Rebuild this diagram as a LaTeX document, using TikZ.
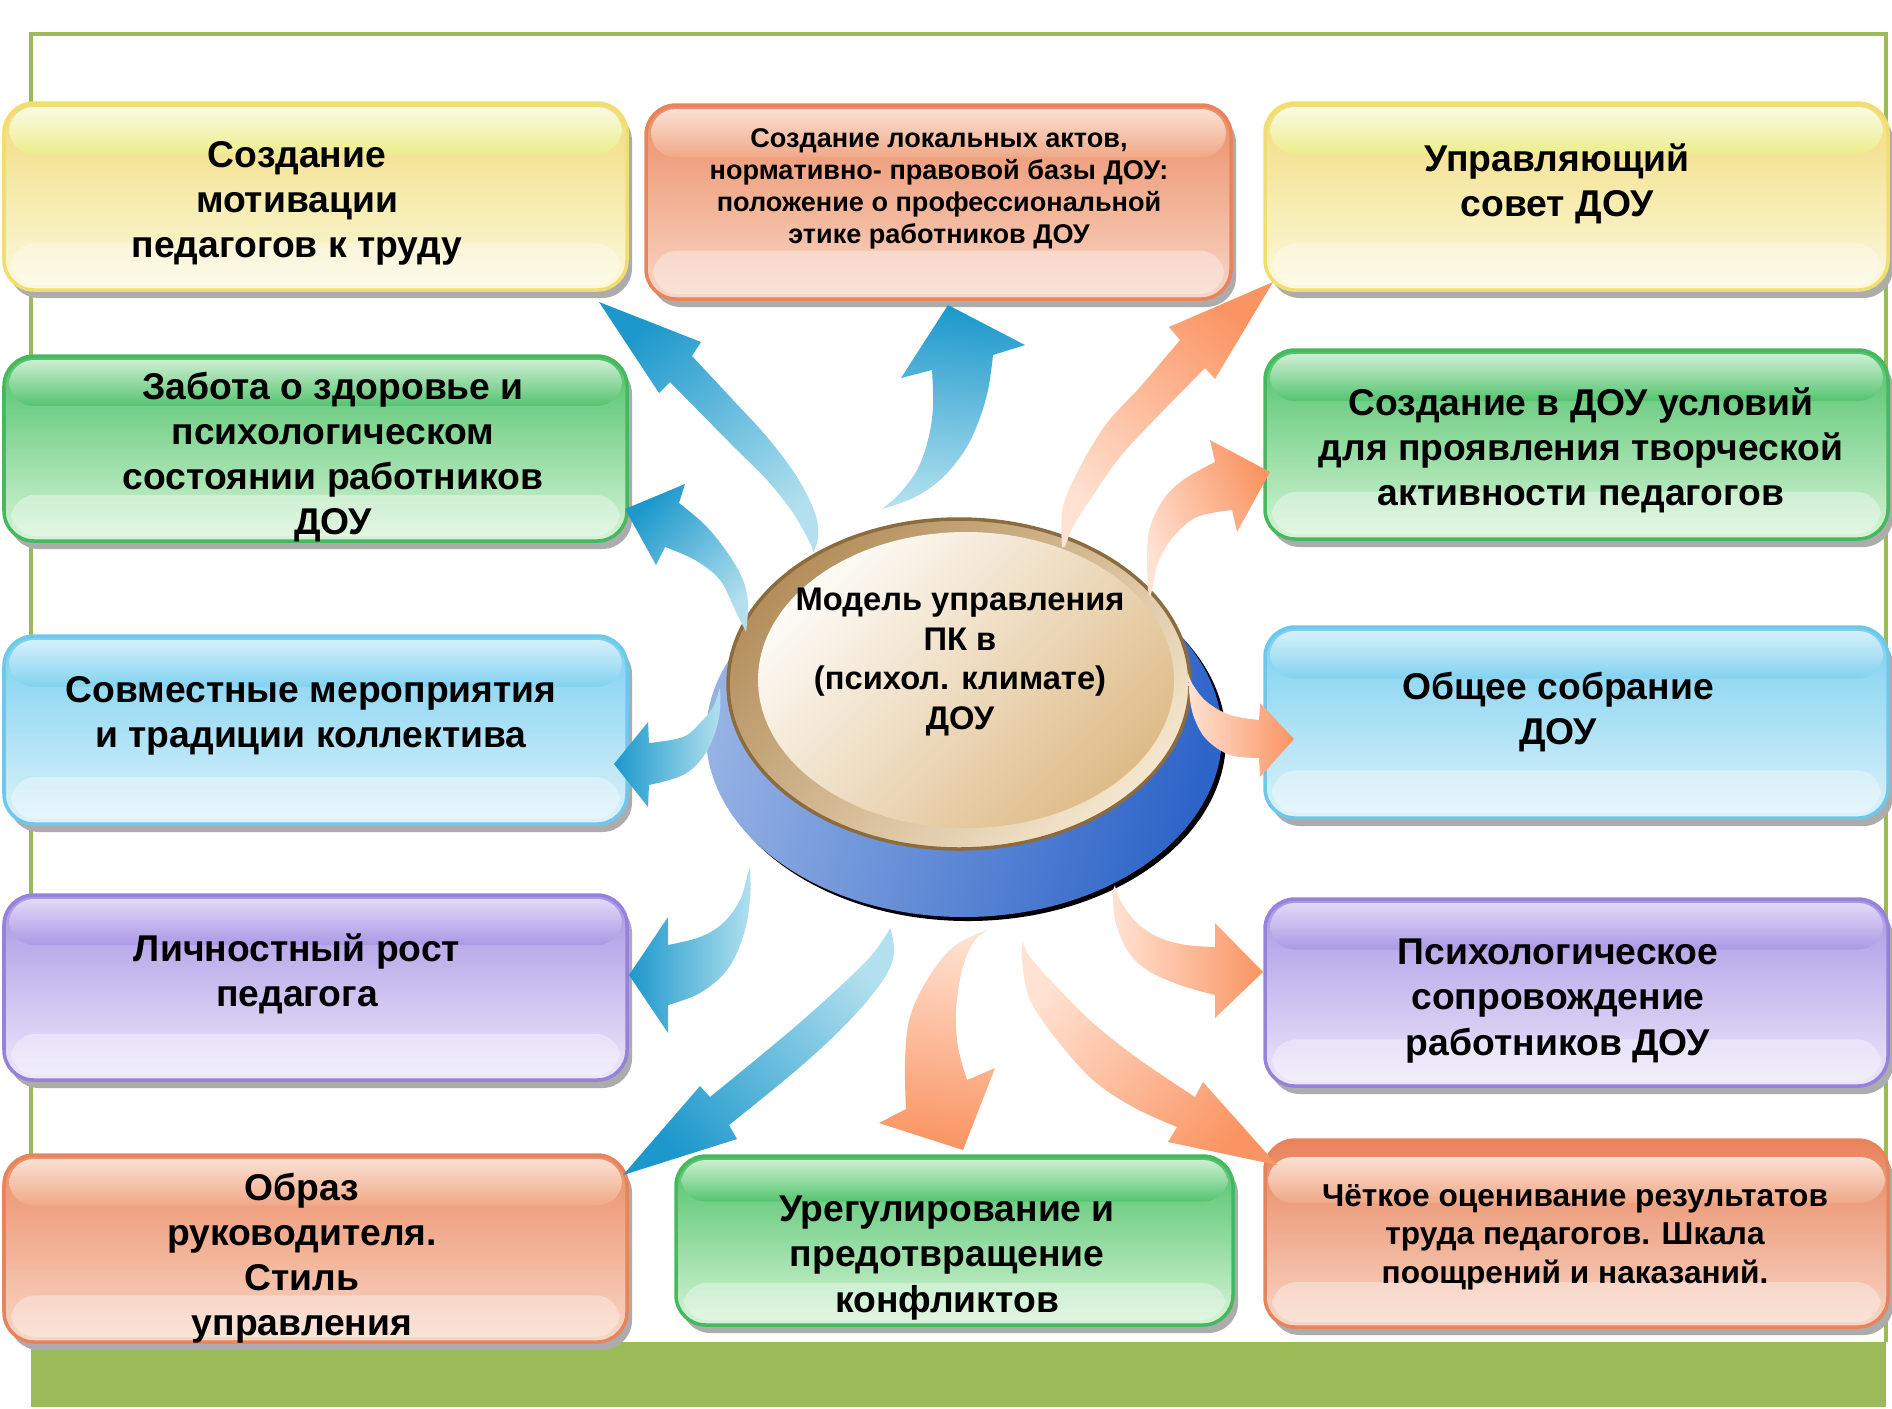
\documentclass[tikz,border=0pt]{standalone}
\usepackage{fontspec}
\setmainfont{Liberation Sans}
\definecolor{frameg}{RGB}{155,187,89}
% yellow
\definecolor{yS}{RGB}{241,220,125}\definecolor{yL}{RGB}{252,249,222}
\definecolor{yT}{RGB}{251,250,228}\definecolor{yG}{RGB}{236,238,140}
\definecolor{yB}{RGB}{242,222,110}\definecolor{yM}{RGB}{245,232,165}
% orange
\definecolor{oS}{RGB}{236,142,102}\definecolor{oL}{RGB}{248,214,198}
\definecolor{oT}{RGB}{250,225,212}\definecolor{oG}{RGB}{240,168,135}
\definecolor{oB}{RGB}{232,132,92}\definecolor{oM}{RGB}{240,172,140}
% green
\definecolor{gS}{RGB}{78,194,106}\definecolor{gL}{RGB}{214,244,214}
\definecolor{gT}{RGB}{205,238,210}\definecolor{gG}{RGB}{85,196,112}
\definecolor{gB}{RGB}{70,185,95}\definecolor{gM}{RGB}{140,215,150}
% light blue
\definecolor{bS}{RGB}{122,208,240}\definecolor{bL}{RGB}{220,242,250}
\definecolor{bT}{RGB}{215,240,250}\definecolor{bG}{RGB}{130,210,240}
\definecolor{bB}{RGB}{110,200,235}\definecolor{bM}{RGB}{165,222,245}
% purple
\definecolor{pS}{RGB}{168,150,228}\definecolor{pL}{RGB}{236,232,250}
\definecolor{pT}{RGB}{226,217,246}\definecolor{pG}{RGB}{172,152,230}
\definecolor{pB}{RGB}{150,130,220}\definecolor{pM}{RGB}{200,188,238}
% arrows
\definecolor{abL}{RGB}{178,224,238}\definecolor{abD}{RGB}{28,152,204}
\definecolor{aoL}{RGB}{255,226,210}\definecolor{aoD}{RGB}{250,148,98}
% disc
\definecolor{dbL}{RGB}{150,178,228}\definecolor{dbD}{RGB}{45,100,200}
\definecolor{goldD}{RGB}{180,143,92}\definecolor{goldL}{RGB}{244,230,205}
\definecolor{goldE}{RGB}{140,108,62}
\definecolor{faceL}{RGB}{253,251,247}\definecolor{faceD}{RGB}{222,188,136}
\definecolor{shgray}{RGB}{172,172,172}

\newcommand{\mybox}[5]{%
  \fill[shgray, rounded corners=8.5pt] ({#1+5},{#2+8}) rectangle ({#3+5},{#4+8});
  \shade[rounded corners=8.5pt, top color=#5S, middle color=#5M, bottom color=#5L, draw=#5B, line width=1pt] (#1,#2) rectangle (#3,#4);
  \pgfmathsetmacro\hh{#4-#2}
  \shade[rounded corners=7pt, top color=#5T, bottom color=#5G] ({#1+5},{#2+4}) rectangle ({#3-5},{#2+0.27*\hh});
  \fill[white, opacity=0.35, rounded corners=7pt] ({#1+7},{#4-0.25*\hh}) rectangle ({#3-7},{#4-5});
}

\begin{document}
\begin{tikzpicture}[x=0.01cm,y=-0.01cm,
  txt/.style={font=\fontsize{10.6}{12.8}\selectfont\bfseries, align=center, inner sep=0pt, text=black},
  blar/.style={top color=abD, bottom color=abL},
  orar/.style={top color=aoD, bottom color=aoL},
  sm/.style={smooth, tension=0.6}]
\useasboundingbox (0,0) rectangle (1892,1408);
\fill[white] (0,0) rectangle (1892,1408);
% frame and band
\draw[frameg, line width=1pt] (31,1342) -- (31,34) -- (1886,34) -- (1886,1342);
\fill[frameg] (31,1342) rectangle (1886,1407);

% boxes
\mybox{4}{103}{627}{290}{y}
\mybox{4}{356}{627}{541}{g}
\mybox{4}{636}{627}{824}{b}
\mybox{4}{895}{627}{1080}{p}
\mybox{4}{1155}{627}{1342}{o}
\mybox{646}{105}{1231}{299}{o}
\mybox{676}{1156}{1233}{1325}{g}
\mybox{1265}{103}{1888}{290}{y}
\mybox{1265}{350}{1888}{539}{g}
\mybox{1265}{627}{1888}{818}{b}
\mybox{1265}{899}{1888}{1086}{p}
% special last box
\fill[shgray, rounded corners=8.5pt] (1270,1148) rectangle (1893,1335);
\shade[rounded corners=8.5pt, top color=oB, middle color=oM, bottom color=oL, draw=oB, line width=1pt] (1265,1140) rectangle (1888,1327);
\shade[rounded corners=7pt, top color=oT, bottom color=oG] (1268,1157) rectangle (1885,1203);
\fill[white, opacity=0.35, rounded corners=7pt] (1272,1282) rectangle (1881,1322);

% texts
\node[txt] (l1) at (297,203) {Создание\\мотивации\\педагогов к труду};
\node[txt] (l2) at (333,457) {Забота о здоровье и\\психологическом\\состоянии работников\\ДОУ};
\node[txt] (l3) at (311,716) {Совместные мероприятия\\и традиции коллектива};
\node[txt] (l4) at (297,974) {Личностный рост\\педагога};
\node[txt] (l5) at (302,1258) {Образ\\руководителя.\\Стиль\\управления};
\node[txt, font=\fontsize{7.7}{9.1}\selectfont\bfseries] (mt) at (939,189) {Создание локальных актов,\\нормативно- правовой базы ДОУ:\\положение о профессиональной\\этике работников ДОУ};
\node[txt] (mb) at (947,1258) {Урегулирование и\\предотвращение\\конфликтов};
\node[txt] (r1) at (1557,184) {Управляющий\\совет ДОУ};
\node[txt] (r2) at (1581,450) {Создание в ДОУ условий\\для проявления творческой\\активности педагогов};
\node[txt] (r3) at (1558,712) {Общее собрание\\ДОУ};
\node[txt] (r4) at (1558,1001) {Психологическое\\сопровождение\\работников ДОУ};
\node[txt, font=\fontsize{9}{11}\selectfont\bfseries] (r5) at (1575,1237) {Чёткое оценивание результатов\\труда педагогов. Шкала\\поощрений и наказаний.};

% disc
\fill[black] (968,739) ellipse [x radius=258, y radius=182];
\shade[top color=dbD, bottom color=dbL, shading angle=-105] (964,735) ellipse [x radius=258, y radius=182];
\shade[top color=goldD, bottom color=goldL, shading angle=45, draw=goldE, line width=1pt] (959,684) ellipse [x radius=231, y radius=165];
\shade[top color=faceL, bottom color=faceD, shading angle=45] (966,680) ellipse [x radius=208, y radius=148];
\node[txt, font=\fontsize{9.3}{11.2}\selectfont\bfseries] (c) at (960,662) {Модель управления\\ПК в\\(психол. климате)\\ДОУ};

% blue arrows
\shade[blar, shading angle=40] plot[sm] coordinates {(813,553) (818,537) (815,513) (797,477) (767,437) (733,400) (692,356)} -- (701,342) -- (599,302) -- (659,393) -- (670,382) -- plot[sm] coordinates {(670,382) (730,443) (767,480) (793,513) (810,543) (813,553)} -- cycle;
\shade[blar, shading angle=-5] plot[sm] coordinates {(882,509) (913,498) (940,480) (963,453) (978,423) (988,390) (993,355)} -- (1025,345) -- (948,305) -- (901,378) -- (932,370) -- plot[sm] coordinates {(932,370) (933,407) (928,440) (917,470) (900,493) (882,509)} -- cycle;
\shade[blar, shading angle=45] plot[sm] coordinates {(679,503) (705,525) (727,552) (743,580) (748,605) (746,632)} -- plot[sm] coordinates {(746,632) (735,610) (720,580) (695,560) (665,547)} -- (656,565) -- (625,509) -- (685,484) -- cycle;
\shade[blar, shading angle=90] plot[sm] coordinates {(649,743) (683,737) (700,723) (713,707) (719,690)} -- plot[sm] coordinates {(720,688) (720,710) (715,733) (703,757) (683,775) (649,785)} -- (648,807) -- (614,764) -- (648,722) -- cycle;
\shade[blar, shading angle=90] plot[sm] coordinates {(668,945) (700,937) (723,923) (740,900) (748,873) (750,867)} -- plot[sm] coordinates {(750,867) (750,900) (743,937) (727,970) (700,993) (668,1005)} -- (668,1033) -- (629,975) -- (668,917) -- cycle;
\shade[blar, shading angle=133] plot[sm] coordinates {(710,1097) (783,1037) (833,993) (870,957) (888,932) (890,927)} -- plot[sm] coordinates {(890,927) (894,953) (883,980) (850,1020) (800,1067) (729,1125)} -- (737,1139) -- (623,1175) -- (700,1086) -- cycle;

% orange arrows
\shade[orar, shading angle=175] plot[sm] coordinates {(967,1080) (958,1047) (956,1010) (962,970) (973,943) (987,930)} -- plot[sm] coordinates {(987,930) (953,947) (927,980) (910,1017) (905,1060) (906,1109)} -- (879,1123) -- (963,1150) -- (995,1068) -- cycle;
\shade[orar, shading angle=-131] plot[sm] coordinates {(1195,1097) (1140,1060) (1093,1023) (1057,987) (1030,957) (1023,942)} -- plot[sm] coordinates {(1023,942) (1022,960) (1030,1000) (1057,1040) (1093,1080) (1133,1107) (1177,1127)} -- (1168,1142) -- (1277,1165) -- (1203,1082) -- cycle;
\shade[orar, shading angle=-90] plot[sm] coordinates {(1215,947) (1187,945) (1160,938) (1137,923) (1120,900) (1115,885)} -- plot[sm] coordinates {(1113,890) (1115,920) (1127,950) (1147,970) (1180,985) (1215,995)} -- (1215,1018) -- (1263,972) -- (1215,923) -- cycle;
\shade[orar, shading angle=-90] plot[sm] coordinates {(1259,720) (1230,715) (1207,702) (1193,685) (1188,673)} -- plot[sm] coordinates {(1188,673) (1190,700) (1195,720) (1207,740) (1230,755) (1259,758)} -- (1260,777) -- (1294,739) -- (1260,703) -- cycle;
\shade[orar, shading angle=-65] plot[sm] coordinates {(1215,462) (1183,480) (1163,500) (1150,527) (1147,553) (1148,590)} -- plot[sm] coordinates {(1150,597) (1152,590) (1158,563) (1173,537) (1197,517) (1232,510)} -- (1237,532) -- (1270,472) -- (1210,440) -- cycle;
\shade[orar, shading angle=-38] plot[sm] coordinates {(1180,340) (1140,387) (1107,423) (1080,467) (1063,507) (1062,547)} -- plot[sm] coordinates {(1065,547) (1073,527) (1090,500) (1120,457) (1157,417) (1205,368)} -- (1215,379) -- (1273,282) -- (1169,327) -- cycle;
\end{tikzpicture}
\end{document}
